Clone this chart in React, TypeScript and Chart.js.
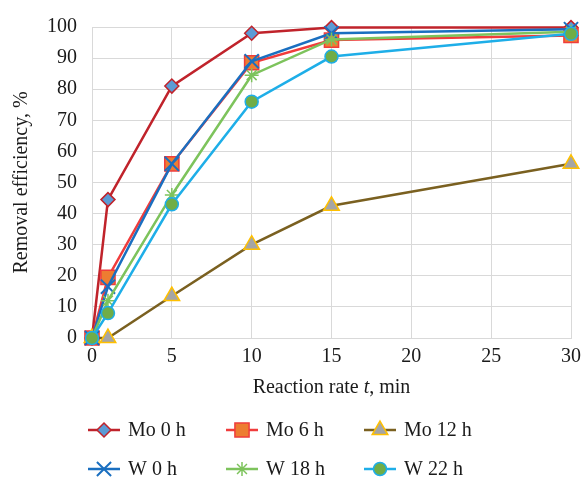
import React, { useEffect, useRef } from 'react';
import { Chart, registerables } from 'chart.js';
import { drawPoint } from 'chart.js/helpers';

Chart.register(...registerables);

const times = [0, 1, 5, 10, 15, 30];
const seriesLabels = ['Mo 0 h', 'Mo 6 h', 'Mo 12 h', 'W 0 h', 'W 18 h', 'W 22 h'];
const mo0 = [0, 44.5, 81, 98, 99.8, 99.8];
const mo6 = [0, 19.5, 56, 88.5, 95.8, 97.3];
const mo12 = [0, 0, 13.5, 30, 42.5, 56];
const w0 = [0, 16.5, 56, 89, 98, 99.3];
const w18 = [0, 12, 46, 84.5, 96, 98.5];
const w22 = [0, 8, 43, 76, 90.5, 97.8];
const xAxisTitle = ['Reaction rate ', 't', ', min'];
const yAxisTitle = 'Removal efficiency, %';

const FONT = '"Liberation Serif", "Times New Roman", serif';
const FS = 20;

const styles = [
  { line: '#C0232B', fill: '#5B9BD5', border: '#C0232B', style: 'rectRot', radius: 7, bw: 1.5 },
  { line: '#F03C3C', fill: '#ED7D31', border: '#F03C3C', style: 'rect', radius: 10, bw: 1.5 },
  { line: '#7A6020', fill: '#A5A5A5', border: '#FFC000', style: 'triangle', radius: 9, bw: 1.5 },
  { line: '#1A6FC0', fill: '#1A6FC0', border: '#1A6FC0', style: 'crossRot', radius: 10, bw: 2 },
  { line: '#7DC35C', fill: '#7DC35C', border: '#7DC35C', style: 'star', radius: 7, bw: 1.5 },
  { line: '#1EAEE8', fill: '#70AD47', border: '#1EAEE8', style: 'circle', radius: 6.5, bw: 1.5 },
];

const legendPlugin = {
  id: 'gridLegend',
  afterDraw(chart: any) {
    const ctx = chart.ctx;
    const cols = [104, 242, 380];
    const rows = [430, 469];
    chart.data.datasets.forEach((ds: any, i: number) => {
      const cx = cols[i % 3];
      const cy = rows[Math.floor(i / 3)];
      ctx.save();
      ctx.strokeStyle = ds.borderColor;
      ctx.lineWidth = ds.borderWidth;
      ctx.beginPath();
      ctx.moveTo(cx - 16, cy);
      ctx.lineTo(cx + 16, cy);
      ctx.stroke();
      ctx.fillStyle = ds.pointBackgroundColor;
      ctx.strokeStyle = ds.pointBorderColor;
      ctx.lineWidth = ds.pointBorderWidth;
      drawPoint(ctx, { pointStyle: ds.pointStyle, rotation: 0, radius: ds.pointRadius, borderWidth: ds.pointBorderWidth } as any, cx, cy);
      ctx.fillStyle = '#1a1a1a';
      ctx.font = `${FS}px ${FONT}`;
      ctx.textBaseline = 'middle';
      ctx.textAlign = 'left';
      ctx.fillText(ds.label, cx + 24, cy + 1);
      ctx.restore();
    });
    // x axis title with italic t
    const xs = chart.scales.x;
    const centerX = (xs.left + xs.right) / 2;
    const y = 388;
    ctx.save();
    ctx.fillStyle = '#1a1a1a';
    ctx.textBaseline = 'middle';
    ctx.textAlign = 'left';
    const fonts = [`${FS}px ${FONT}`, `italic ${FS}px ${FONT}`, `${FS}px ${FONT}`];
    let total = 0;
    const widths = xAxisTitle.map((t, i) => {
      ctx.font = fonts[i];
      const w = ctx.measureText(t).width;
      total += w;
      return w;
    });
    let x = centerX - total / 2;
    xAxisTitle.forEach((t, i) => {
      ctx.font = fonts[i];
      ctx.fillText(t, x, y);
      x += widths[i];
    });
    ctx.restore();
  },
};

export default function App() {
  const ref = useRef<HTMLCanvasElement | null>(null);
  useEffect(() => {
    if (!ref.current) return;
    const all = [mo0, mo6, mo12, w0, w18, w22];
    const datasets = all.map((vals, i) => ({
      label: seriesLabels[i],
      data: times.map((t, j) => ({ x: t, y: vals[j] })),
      borderColor: styles[i].line,
      backgroundColor: styles[i].fill,
      borderWidth: 2.5,
      pointStyle: styles[i].style,
      pointRadius: styles[i].radius,
      pointHoverRadius: styles[i].radius,
      pointBackgroundColor: styles[i].fill,
      pointBorderColor: styles[i].border,
      pointBorderWidth: styles[i].bw,
      tension: 0,
      fill: false,
      clip: false as any,
      order: 6 - i,
    }));
    const chart = new Chart(ref.current, {
      type: 'line',
      data: { datasets },
      plugins: [legendPlugin],
      options: {
        animation: false,
        responsive: true,
        maintainAspectRatio: false,
        layout: { padding: { left: 0, right: 0, top: 26, bottom: 69 } },
        plugins: {
          legend: { display: false },
          tooltip: { enabled: false },
        },
        scales: {
          x: {
            type: 'linear',
            min: 0,
            max: 30,
            ticks: { stepSize: 5, color: '#1a1a1a', font: { family: FONT, size: FS }, padding: 7 },
            grid: { color: '#D9D9D9', drawTicks: false },
            border: { color: '#D9D9D9' },
            afterFit: (s: any) => { s.height = 70; s.paddingRight = 11; s.paddingLeft = 0; },
          },
          y: {
            min: 0,
            max: 100,
            ticks: { stepSize: 10, color: '#1a1a1a', font: { family: FONT, size: FS }, padding: 15 },
            grid: { color: '#D9D9D9', drawTicks: false },
            border: { color: '#D9D9D9' },
            title: { display: true, text: yAxisTitle, color: '#1a1a1a', font: { family: FONT, size: FS }, padding: { top: 10, bottom: 0 } },
            afterFit: (s: any) => { s.width = 92; },
          },
        },
      },
    });
    return () => chart.destroy();
  }, []);
  return (
    <div style={{ position: 'absolute', left: 0, top: 0, width: 583, height: 477, background: '#fff' }}>
      <canvas ref={ref} />
    </div>
  );
}
